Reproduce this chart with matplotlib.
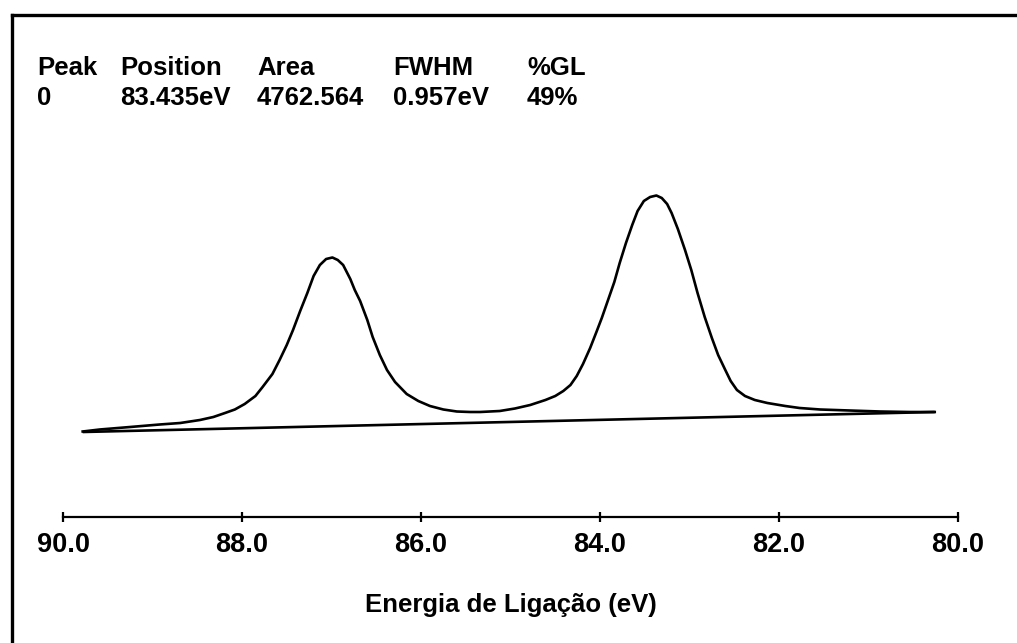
import matplotlib
matplotlib.use('Agg')
import matplotlib.pyplot as plt
from matplotlib.lines import Line2D

plt.rcParams['font.family'] = ['Liberation Sans', 'DejaVu Sans']
plt.rcParams['font.weight'] = 'bold'

# Envelope of the fitted spectrum (binding energy in eV, intensity in a.u.)
energy = [89.78, 89.59, 89.25, 88.92, 88.69, 88.47, 88.32, 88.19, 88.08, 87.97,
          87.85, 87.77, 87.66, 87.58, 87.50, 87.43, 87.35, 87.27, 87.20, 87.13,
          87.06, 86.99, 86.93, 86.87, 86.79, 86.74, 86.68, 86.60, 86.54, 86.46,
          86.38, 86.29, 86.16, 86.03, 85.90, 85.75, 85.60, 85.45, 85.34, 85.23,
          85.12, 84.95, 84.78, 84.61, 84.50, 84.41, 84.33, 84.26, 84.19, 84.11,
          84.04, 83.98, 83.91, 83.84, 83.78, 83.71, 83.64, 83.58, 83.51, 83.44,
          83.37, 83.31, 83.25, 83.20, 83.13, 83.05, 82.98, 82.91, 82.83, 82.75,
          82.68, 82.60, 82.54, 82.47, 82.38, 82.27, 82.13, 81.93, 81.77, 81.54,
          81.21, 80.87, 80.54, 80.26]
intensity = [0.5, 2.5, 5, 7.5, 9, 12, 15, 19, 22.5, 28,
             36, 45, 58, 72, 87, 102, 121, 139, 156, 167,
             173, 174.5, 172, 167, 153, 142, 131, 112, 95, 77,
             62, 50, 38, 31, 26, 22.5, 20.5, 20, 20, 20.5,
             21, 23.5, 27, 32, 36, 41, 47, 56, 68, 84,
             100, 114, 132, 150, 169, 189, 207, 221, 231, 235,
             236.5, 234, 228, 219, 203, 182, 162, 139, 115, 94,
             77, 62, 51, 42, 36, 32, 29, 26, 24, 22.5,
             21.5, 20.5, 20, 20]

# Linear background
bg_energy = [89.78, 80.26]
bg_intensity = [0, 20]

# Fit summary
headers = ['Peak', 'Position', 'Area', 'FWHM', '%GL']
values = ['0', '83.435eV', '4762.564', '0.957eV', '49%']
col_x = [37, 120, 257, 393, 527]

xticks = [90.0, 88.0, 86.0, 84.0, 82.0, 80.0]

W, H = 1017, 643
fig = plt.figure(figsize=(W / 100, H / 100), dpi=100)
ax = fig.add_axes([63 / W, (H - 517) / H, 895 / W, 417 / H])

ax.plot(energy, intensity, color='black', lw=1.9, solid_joinstyle='round')
ax.plot(bg_energy, bg_intensity, color='black', lw=1.9, solid_capstyle='butt')

ax.set_xlim(90, 80)
ax.set_ylim(-85, 332)
ax.set_xticks(xticks)
ax.set_xticklabels([f'{t:.1f}' for t in xticks], fontsize=19.5, fontweight='bold')
ax.set_yticks([])
for s in ['left', 'right', 'top']:
    ax.spines[s].set_visible(False)
ax.spines['bottom'].set_linewidth(1.6)
ax.tick_params(axis='x', direction='inout', length=7.5, width=1.6, pad=7)

fig.text(511 / W, 1 - 612 / H, 'Energia de Ligação (eV)', ha='center',
         va='baseline', fontsize=18.5, fontweight='bold')

for x, h, v in zip(col_x, headers, values):
    fig.text(x / W, 1 - 75 / H, h, ha='left', va='baseline', fontsize=18.5, fontweight='bold')
    fig.text(x / W, 1 - 105 / H, v, ha='left', va='baseline', fontsize=18.5, fontweight='bold')

# frame lines (top and left)
fig.add_artist(Line2D([12 / W, 1.0], [1 - 15 / H, 1 - 15 / H], color='black', lw=2.4,
                      transform=fig.transFigure))
fig.add_artist(Line2D([12 / W, 12 / W], [0, 1 - 15 / H], color='black', lw=2.4,
                      transform=fig.transFigure))

fig.savefig('out.png', dpi=100)
